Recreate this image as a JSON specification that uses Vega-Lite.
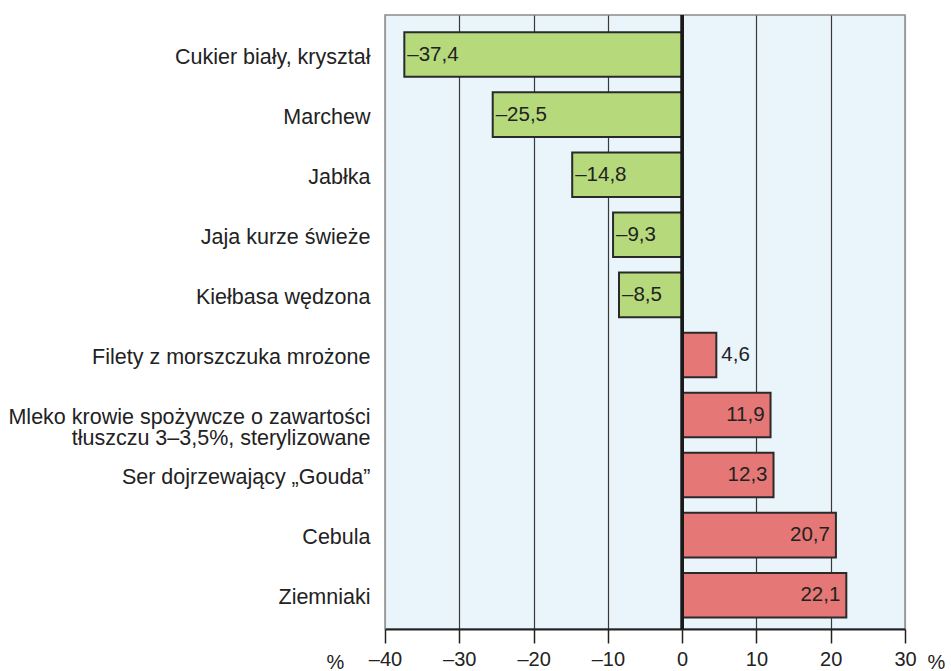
{
  "$schema": "https://vega.github.io/schema/vega-lite/v6.json",
  "width": 520,
  "height": 614,
  "autosize": {"type": "none"},
  "padding": {"left": 385, "top": 15, "right": 46, "bottom": 42},
  "background": "white",
  "config": {
    "font": "Liberation Sans",
    "view": {"fill": "#e9f4fb", "stroke": "#8a8a8a", "strokeWidth": 1.5},
    "locale": {
      "number": {"decimal": ",", "thousands": " ", "grouping": [3], "currency": ["", ""], "minus": "–"}
    }
  },
  "data": {
    "values": [
      {"name": "Cukier biały, kryształ", "value": -37.4},
      {"name": "Marchew", "value": -25.5},
      {"name": "Jabłka", "value": -14.8},
      {"name": "Jaja kurze świeże", "value": -9.3},
      {"name": "Kiełbasa wędzona", "value": -8.5},
      {"name": "Filety z morszczuka mrożone", "value": 4.6},
      {"name": "Mleko krowie spożywcze o zawartości|tłuszczu 3–3,5%, sterylizowane", "value": 11.9},
      {"name": "Ser dojrzewający „Gouda”", "value": 12.3},
      {"name": "Cebula", "value": 20.7},
      {"name": "Ziemniaki", "value": 22.1}
    ]
  },
  "resolve": {"axis": {"x": "independent"}},
  "layer": [
    {
      "mark": {"type": "bar", "stroke": "#2a2a2a", "strokeWidth": 2},
      "encoding": {
        "y": {
          "field": "name", "type": "nominal", "sort": null,
          "scale": {"paddingInner": 0.258, "paddingOuter": 0.24, "align": 0.6},
          "axis": {
            "title": null, "ticks": false, "domain": false,
            "labelFontSize": 21.5, "labelColor": "#222", "labelPadding": 15,
            "labelLimit": 400, "labelLineHeight": 21, "labelOffset": 3,
            "labelExpr": "split(datum.label, '|')"
          }
        },
        "x": {
          "field": "value", "type": "quantitative",
          "scale": {"domain": [-40, 30], "nice": false, "zero": false},
          "axis": {
            "orient": "bottom",
            "values": [-40, -30, -20, -10, 0, 10, 20, 30],
            "grid": true,
            "gridColor": {"condition": {"test": "datum.value == -40 || datum.value == 30", "value": "#9a9a9a"}, "value": "#3a3a3a"},
            "gridWidth": 1.2,
            "domainColor": "#222", "domainWidth": 2,
            "tickColor": "#222", "tickWidth": 1.5, "tickSize": 14,
            "labelFontSize": 20, "labelColor": "#222", "labelPadding": 6, "labelFlush": false,
            "title": "%", "titleX": -50, "titleY": 33, "titleBaseline": "middle",
            "titleAlign": "center", "titleFontSize": 20, "titleFontWeight": "normal", "titleColor": "#222"
          }
        },
        "color": {
          "condition": {"test": "datum.value < 0", "value": "#b5d97b"},
          "value": "#e57876"
        }
      }
    },
    {
      "transform": [{"filter": "datum.value < 0"}],
      "mark": {"type": "text", "align": "left", "dx": 3, "fontSize": 20.5, "color": "#222"},
      "encoding": {
        "y": {"field": "name", "type": "nominal", "sort": null},
        "x": {"field": "value", "type": "quantitative", "axis": null},
        "text": {"field": "value", "type": "quantitative", "format": ".1f"}
      }
    },
    {
      "transform": [{"filter": "datum.value > 0 && datum.value < 10"}],
      "mark": {"type": "text", "align": "left", "dx": 5, "fontSize": 20.5, "color": "#222"},
      "encoding": {
        "y": {"field": "name", "type": "nominal", "sort": null},
        "x": {"field": "value", "type": "quantitative", "axis": null},
        "text": {"field": "value", "type": "quantitative", "format": ".1f"}
      }
    },
    {
      "transform": [{"filter": "datum.value >= 10"}],
      "mark": {"type": "text", "align": "right", "dx": -6, "fontSize": 20.5, "color": "#222"},
      "encoding": {
        "y": {"field": "name", "type": "nominal", "sort": null},
        "x": {"field": "value", "type": "quantitative", "axis": null},
        "text": {"field": "value", "type": "quantitative", "format": ".1f"}
      }
    },
    {
      "mark": {"type": "rule", "color": "#1a1a1a", "strokeWidth": 2.5},
      "encoding": {
        "x": {
          "datum": 0, "type": "quantitative",
          "axis": {
            "orient": "bottom", "labels": false, "ticks": false, "domain": false, "grid": false,
            "title": "%", "titleX": 551, "titleY": 33, "titleBaseline": "middle",
            "titleAlign": "center", "titleFontSize": 20, "titleFontWeight": "normal", "titleColor": "#222"
          }
        }
      }
    }
  ]
}
